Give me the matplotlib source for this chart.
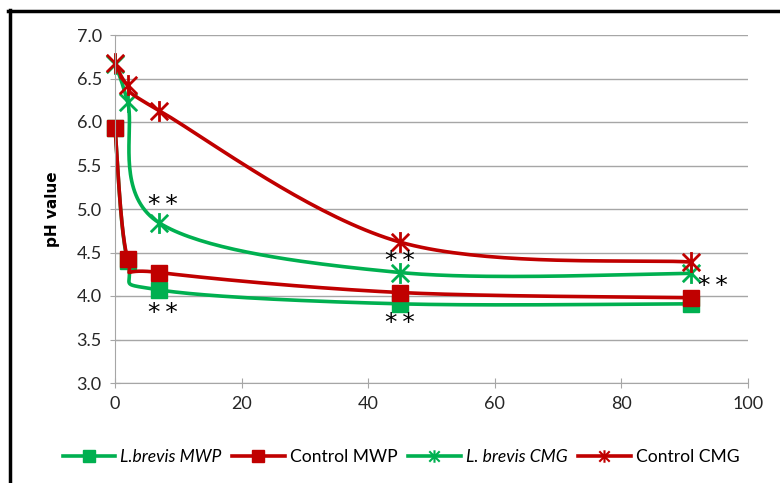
import numpy as np
import matplotlib.pyplot as plt
from matplotlib.path import Path
from matplotlib.lines import Line2D

# dias de armazenamento e valores de pH
dias = [0, 2, 7, 45, 91]
lb_mwp = [5.93, 4.40, 4.07, 3.91, 3.91]
ct_mwp = [5.93, 4.43, 4.27, 4.04, 3.98]
lb_cmg = [6.67, 6.23, 4.84, 4.27, 4.26]
ct_cmg = [6.68, 6.42, 6.13, 4.62, 4.39]
nomes = ["L.brevis MWP", "Control MWP", "L. brevis CMG", "Control CMG"]
italico = [True, False, True, False]

# asteriscos de significancia (x, y)
sig_x = [7.6, 7.6, 45, 45, 94.5]
sig_y = [5.05, 3.81, 4.4, 3.69, 4.12]

verde = "#00B050"
vermelho = "#C00000"


def suavizar(x, y, n=40):
    # curva suavizada estilo Excel (Bezier com tangentes Catmull-Rom)
    p = np.column_stack([x, y]).astype(float)
    p = np.vstack([p[0], p, p[-1]])
    out = []
    for i in range(1, len(p) - 2):
        p0, p1, p2, p3 = p[i - 1], p[i], p[i + 1], p[i + 2]
        c1 = p1 + (p2 - p0) / 6
        c2 = p2 - (p3 - p1) / 6
        t = np.linspace(0, 1, n)[:, None]
        seg = (1 - t) ** 3 * p1 + 3 * (1 - t) ** 2 * t * c1 + 3 * (1 - t) * t ** 2 * c2 + t ** 3 * p2
        out.append(seg)
    out = np.vstack(out)
    return out[:, 0], out[:, 1]


# marcador estrela do Excel: X com traço vertical
estrela = Path([(-1, -1), (1, 1), (-1, 1), (1, -1), (0, -1.2), (0, 1.2)],
               [Path.MOVETO, Path.LINETO, Path.MOVETO, Path.LINETO, Path.MOVETO, Path.LINETO])

fig = plt.figure(figsize=(7.8, 4.83), dpi=100)
ax = fig.add_axes([115 / 780, 1 - 383 / 483, (748 - 115) / 780, (383 - 35) / 483])

series = [(lb_mwp, verde, "s"), (ct_mwp, vermelho, "s"), (lb_cmg, verde, estrela), (ct_cmg, vermelho, estrela)]
handles = []
for (vals, cor, mk), nome in zip(series, nomes):
    xs, ys = suavizar(dias, vals)
    ax.plot(xs, ys, color=cor, lw=2.6, solid_capstyle="round", clip_on=False)
    if mk == "s":
        ax.plot(dias, vals, ls="none", marker="s", ms=11, color=cor, clip_on=False)
        handles.append(Line2D([], [], color=cor, lw=2.6, marker="s", ms=8))
    else:
        ax.plot(dias, vals, ls="none", marker=mk, ms=15, mew=2, color=cor, mfc="none", clip_on=False)
        handles.append(Line2D([], [], color=cor, lw=2.6, marker=mk, ms=9, mew=1.5, mfc="none"))

for sx, sy in zip(sig_x, sig_y):
    ax.text(sx, sy, "*\u2009*", fontsize=18, ha="center", va="center", color="black",
            family="DejaVu Sans")

ax.set_xlim(0, 100)
ax.set_ylim(3.0, 7.0)
ax.set_xticks([0, 20, 40, 60, 80, 100])
ax.set_yticks(np.arange(3.0, 7.01, 0.5))
ax.set_yticklabels([f"{v:.1f}" for v in np.arange(3.0, 7.01, 0.5)])
ax.grid(axis="y", color="#a6a6a6", lw=1)
ax.set_axisbelow(True)
for s in ["top", "right"]:
    ax.spines[s].set_visible(False)
for s in ["left", "bottom"]:
    ax.spines[s].set_color("#a6a6a6")
ax.tick_params(direction="inout", length=7, color="#a6a6a6", labelsize=13, labelcolor="#262626", pad=6)
for lab in ax.get_xticklabels() + ax.get_yticklabels():
    lab.set_family("Lato")
ax.set_ylabel("pH value", fontsize=11, fontweight="bold", labelpad=12)

leg = fig.legend(handles, nomes, loc="center", bbox_to_anchor=(401 / 780, 1 - 457 / 483), ncol=4,
                 frameon=False, handlelength=3.0, columnspacing=0.6, handletextpad=0.3,
                 prop={"family": "Lato", "size": 12.6})
for txt, it in zip(leg.get_texts(), italico):
    if it:
        txt.set_style("italic")

# moldura (esquerda e topo)
fig.add_artist(Line2D([9.5 / 780, 9.5 / 780], [0, 1 - 10 / 483], color="black", lw=2.5, transform=fig.transFigure))
fig.add_artist(Line2D([8 / 780, 1], [1 - 10.5 / 483, 1 - 10.5 / 483], color="black", lw=2.5, transform=fig.transFigure))

fig.savefig("out.png", dpi=100, facecolor="white")
